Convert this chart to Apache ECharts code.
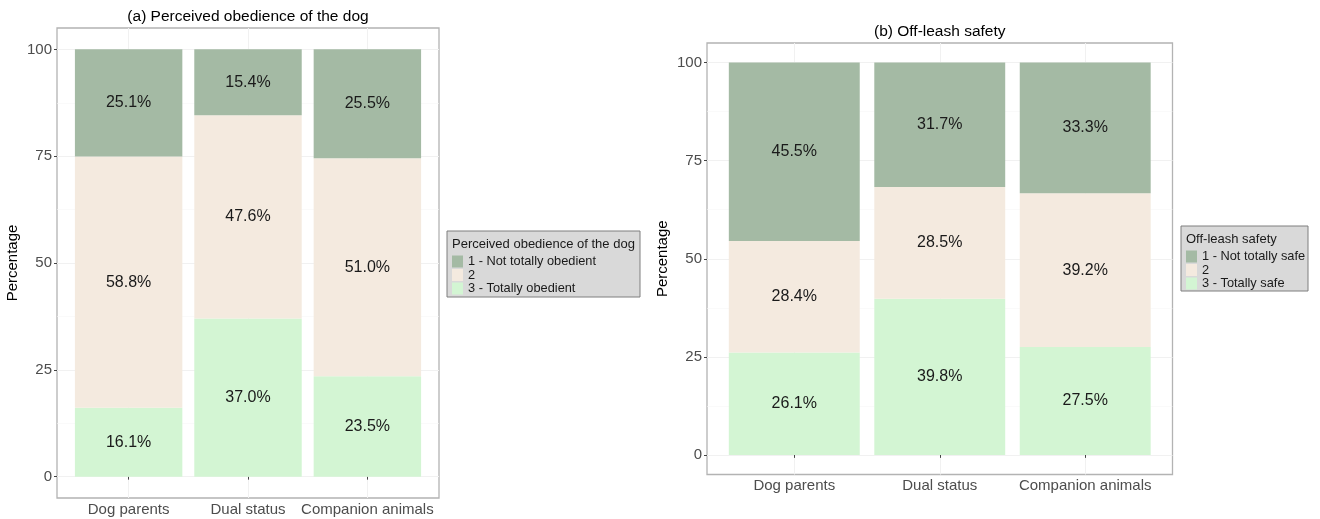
<!DOCTYPE html>
<html><head><meta charset="utf-8">
<script src="https://cdn.jsdelivr.net/npm/echarts@6/dist/echarts.min.js"></script>
<style>html,body{margin:0;padding:0;background:#fff}#c{width:1320px;height:519px}</style>
</head><body><div id="c"></div>
<script>
const categories = ['Dog parents', 'Dual status', 'Companion animals'];
const obedNames = ['1 - Not totally obedient', '2', '3 - Totally obedient'];
const obed1 = [25.1, 15.4, 25.5];
const obed2 = [58.8, 47.6, 51.0];
const obed3 = [16.1, 37.0, 23.5];
const safeNames = ['1 - Not totally safe', '2', '3 - Totally safe'];
const safe1 = [45.5, 31.7, 33.3];
const safe2 = [28.4, 28.5, 39.2];
const safe3 = [26.1, 39.8, 27.5];
const yTicks = [0, 25, 50, 75, 100];
const yMinor = [12.5, 37.5, 62.5, 87.5];

const FONT = 'Liberation Sans, Arial, sans-serif';
const colors = ['#a4baa4', '#f4eadf', '#d3f5d3'];

const panels = [
  {l: 57, r: 439, t: 28, b: 498, title: '(a) Perceived obedience of the dog', names: obedNames, vals: [obed1, obed2, obed3],
   legend: {x: 447, y: 231, w: 193, h: 66, title: 'Perceived obedience of the dog', itemTop: 255}},
  {l: 707, r: 1172.5, t: 43, b: 474.5, title: '(b) Off-leash safety', names: safeNames, vals: [safe1, safe2, safe3],
   legend: {x: 1181, y: 226, w: 127, h: 65, title: 'Off-leash safety', itemTop: 250}}
];

const grid = [], xAxis = [], yAxis = [], series = [], legend = [], graphic = [];
panels.forEach((p, i) => {
  const step = (p.r - p.l) / 3.2;
  const inset = 0.1 * step;
  const ph = (p.b - p.t) / 110;
  const y100 = p.t + 5 * ph, y0 = p.b - 5 * ph;
  const fi = grid.length;
  grid.push({left: p.l, top: p.t, width: p.r - p.l, height: p.b - p.t, show: true,
    borderColor: '#b3b3b3', borderWidth: 1.3, backgroundColor: '#fff', containLabel: false});
  xAxis.push({gridIndex: fi, type: 'value', min: 0.4, max: 3.6, show: false});
  yAxis.push({gridIndex: fi, type: 'value', min: -5, max: 105, show: false});
  const di = grid.length;
  grid.push({left: p.l + inset, top: y100, width: p.r - p.l - 2 * inset, height: y0 - y100, show: false});
  xAxis.push({gridIndex: di, type: 'category', data: categories, offset: 5 * ph,
    axisLine: {show: false},
    axisTick: {show: true, alignWithLabel: true, length: 3, lineStyle: {color: '#444', width: 1}},
    axisLabel: {fontSize: 15, color: '#4d4d4d', fontFamily: FONT, margin: 4, interval: 0, hideOverlap: false},
    splitLine: {show: false}});
  yAxis.push({gridIndex: di, type: 'value', min: 0, max: 100, interval: 25, offset: inset,
    name: 'Percentage', nameLocation: 'middle', nameGap: 37,
    nameTextStyle: {fontSize: 15, color: '#000', fontFamily: FONT},
    axisLine: {show: false},
    axisTick: {show: true, length: 3, lineStyle: {color: '#444', width: 1}},
    axisLabel: {fontSize: 15, color: '#4d4d4d', fontFamily: FONT, margin: 5},
    splitLine: {show: false}});
  const ml = [];
  yTicks.forEach(v => ml.push({yAxis: v, lineStyle: {color: '#f1f1f1', width: 1, type: 'solid'}}));
  yMinor.forEach(v => ml.push({yAxis: v, lineStyle: {color: '#f7f7f7', width: 0.6, type: 'solid'}}));
  [1, 2, 3].forEach(v => ml.push({xAxis: v, lineStyle: {color: '#f1f1f1', width: 1, type: 'solid'}}));
  series.push({type: 'line', data: [], xAxisIndex: fi, yAxisIndex: fi, silent: true, z: 0,
    markLine: {silent: true, symbol: 'none', z: 0, animation: false, label: {show: false}, data: ml}});
  [2, 1, 0].forEach(k => {
    series.push({type: 'bar', name: p.names[k], stack: 'p' + i, xAxisIndex: di, yAxisIndex: di,
      data: p.vals[k], barWidth: '90%', z: 2,
      itemStyle: {color: colors[k]},
      label: {show: true, position: 'inside', fontSize: 16, color: '#1a1a1a', fontFamily: FONT,
        formatter: d => d.value.toFixed(1) + '%'}});
  });
  graphic.push({type: 'text', x: (p.l + p.r) / 2, y: p.t - 11,
    style: {text: p.title, fontSize: 15.5, fill: '#000', fontFamily: FONT, align: 'center', verticalAlign: 'middle'}});
  const L = p.legend;
  graphic.push({type: 'rect', shape: {x: L.x, y: L.y, width: L.w, height: L.h},
    style: {fill: '#d9d9d9', stroke: '#7f7f7f', lineWidth: 1}, z: -1});
  graphic.push({type: 'text', x: L.x + 5, y: L.y + 13,
    style: {text: L.title, fontSize: 13, fill: '#1a1a1a', fontFamily: FONT, align: 'left', verticalAlign: 'middle'}});
  legend.push({data: p.names, orient: 'vertical', left: L.x + 5, top: L.itemTop, padding: 0,
    itemWidth: 11, itemHeight: 12, itemGap: 0.5, icon: 'rect', selectedMode: false,
    textStyle: {fontSize: 12.8, color: '#1a1a1a', fontFamily: FONT, lineHeight: 12}});
});

const chart = echarts.init(document.getElementById('c'), null, {renderer: 'canvas'});
chart.setOption({animation: false, backgroundColor: '#fff', grid, xAxis, yAxis, series, legend, graphic});
</script></body></html>
